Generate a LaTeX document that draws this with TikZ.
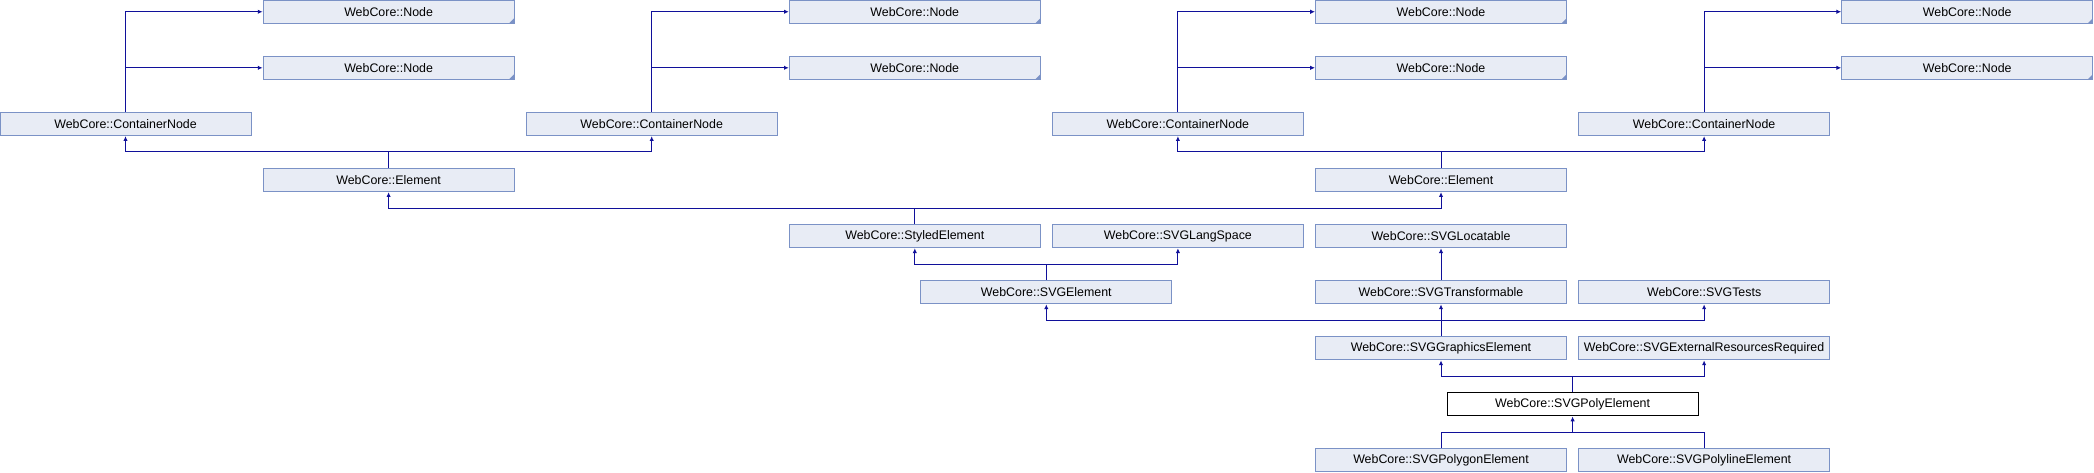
\documentclass[tikz,border=0pt]{standalone}
\usepackage{fontspec}
\setmainfont{Liberation Sans}
\usetikzlibrary{arrows.meta}
\definecolor{boxfill}{HTML}{E8ECF5}
\definecolor{boxline}{HTML}{7B92C6}
\definecolor{edgeblue}{HTML}{10109A}
\begin{document}
\begin{tikzpicture}[x=0.5pt,y=-0.5pt,
  cls/.style={draw=boxline, fill=boxfill, line width=0.5pt, minimum width=125.5pt,
    minimum height=11.75pt, inner sep=0pt, font=\fontsize{6.2}{7}\selectfont},
  trunc/.style={cls, path picture={\fill[boxline] (path picture bounding box.south east)
    -- ++(-2.6pt,0) -- ++(2.6pt,2.6pt) -- cycle;}},
  self/.style={cls, draw=black, fill=white},
  link/.style={draw=edgeblue, line width=0.5pt},
  inh/.style={link, -{Latex[length=2.4pt,width=2.2pt]}}]
\useasboundingbox (0,0) rectangle (2094,472);
% top rows
\node [trunc] (nodeA1) at (388.6,11.75) {WebCore::Node};
\node [trunc] (nodeA2) at (388.6,67.8) {WebCore::Node};
\node [trunc] (nodeB1) at (914.8,11.75) {WebCore::Node};
\node [trunc] (nodeB2) at (914.8,67.8) {WebCore::Node};
\node [trunc] (nodeC1) at (1441,11.75) {WebCore::Node};
\node [trunc] (nodeC2) at (1441,67.8) {WebCore::Node};
\node [trunc] (nodeD1) at (1967.2,11.75) {WebCore::Node};
\node [trunc] (nodeD2) at (1967.2,67.8) {WebCore::Node};
\node [cls] (contA) at (125.5,123.9) {WebCore::ContainerNode};
\node [cls] (contB) at (651.7,123.9) {WebCore::ContainerNode};
\node [cls] (contC) at (1177.9,123.9) {WebCore::ContainerNode};
\node [cls] (contD) at (1704.1,123.9) {WebCore::ContainerNode};
\node [cls] (elemA) at (388.6,179.9) {WebCore::Element};
\node [cls] (elemB) at (1441,179.9) {WebCore::Element};
% svg part
\node [cls] (styled) at (914.8,236) {WebCore::StyledElement};
\node [cls] (langspace) at (1177.9,236) {WebCore::SVGLangSpace};
\node [cls] (locatable) at (1441,236) {WebCore::SVGLocatable};
\node [cls] (svgelem) at (1046.3,292.1) {WebCore::SVGElement};
\node [cls] (transformable) at (1441,292.1) {WebCore::SVGTransformable};
\node [cls] (tests) at (1704.1,292.1) {WebCore::SVGTests};
\node [cls] (graphics) at (1441,348.1) {WebCore::SVGGraphicsElement};
\node [cls] (extres) at (1704.1,348.1) {WebCore::SVGExternalResourcesRequired};
\node [self] (poly) at (1572.6,404.2) {WebCore::SVGPolyElement};
\node [cls] (polygon) at (1441,460.2) {WebCore::SVGPolygonElement};
\node [cls] (polyline) at (1704.1,460.2) {WebCore::SVGPolylineElement};
% junctions
\coordinate (mA) at (388.6,151.9);
\coordinate (mB) at (1441,151.9);
\coordinate (mS) at (914.8,208);
\coordinate (mE) at (1046.3,264);
\coordinate (mG) at (1441,320.1);
\coordinate (mP) at (1572.6,376.2);
\coordinate (mQ) at (1572.6,432.2);
% edges
\foreach \c/\n in {contA/nodeA1,contA/nodeA2,contB/nodeB1,contB/nodeB2,
                   contC/nodeC1,contC/nodeC2,contD/nodeD1,contD/nodeD2}
  \draw [inh] (\c.north) |- (\n.west);
\draw [inh] (elemA.north) -- (mA) -| (contA.south);
\draw [inh] (mA) -| (contB.south);
\draw [inh] (elemB.north) -- (mB) -| (contC.south);
\draw [inh] (mB) -| (contD.south);
\draw [inh] (styled.north) -- (mS) -| (elemA.south);
\draw [inh] (mS) -| (elemB.south);
\draw [inh] (svgelem.north) -- (mE) -| (styled.south);
\draw [inh] (mE) -| (langspace.south);
\draw [inh] (transformable.north) -- (locatable.south);
\draw [inh] (graphics.north) -- (transformable.south);
\draw [inh] (mG) -| (svgelem.south);
\draw [inh] (mG) -| (tests.south);
\draw [inh] (poly.north) -- (mP) -| (graphics.south);
\draw [inh] (mP) -| (extres.south);
\draw [link] (polygon.north) |- (mQ);
\draw [link] (polyline.north) |- (mQ);
\draw [inh] (mQ) -- (poly.south);
\end{tikzpicture}
\end{document}
